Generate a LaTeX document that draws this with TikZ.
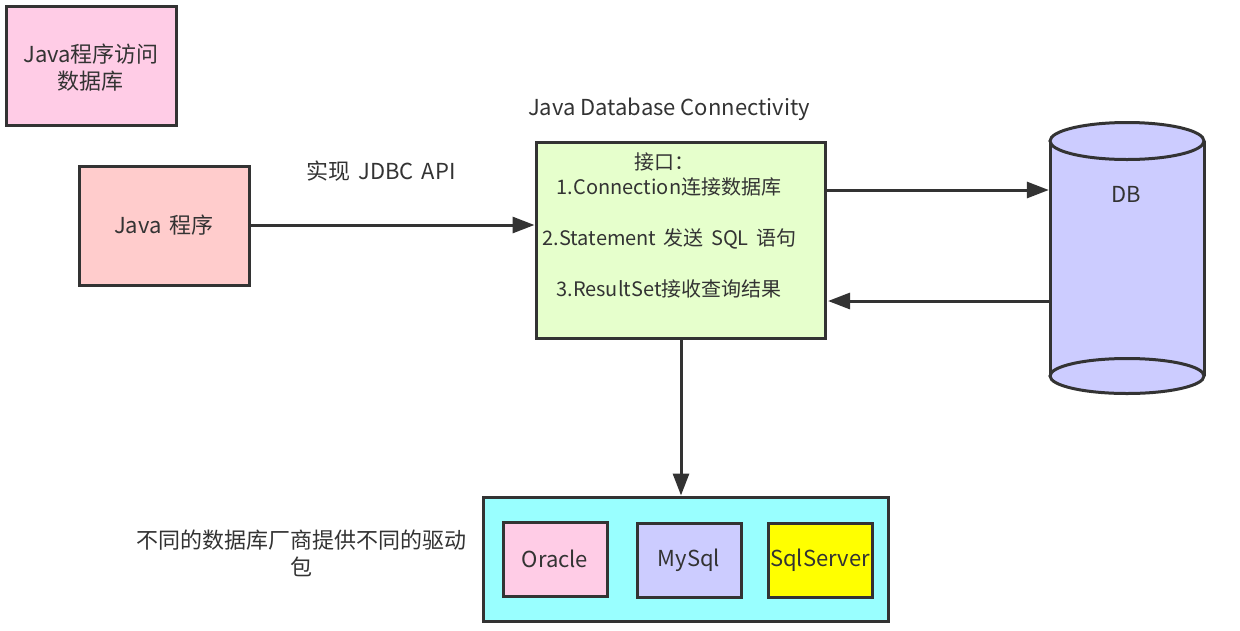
\documentclass[tikz,border=0pt]{standalone}
\usepackage{fontspec}
\setmainfont{Noto Sans CJK SC}
\usetikzlibrary{arrows.meta}
\definecolor{strokec}{HTML}{333333}
\definecolor{pinkc}{HTML}{FFCCE6}
\definecolor{salmonc}{HTML}{FFCCCC}
\definecolor{greenc}{HTML}{E6FFCC}
\definecolor{bluec}{HTML}{CCCCFF}
\definecolor{cyanc}{HTML}{99FFFF}
\definecolor{yellowc}{HTML}{FFFF00}
\definecolor{textc}{HTML}{333333}
\newcommand{\wsp}{\hspace{0.37em}}
\tikzset{
  box/.style={draw=strokec, line width=3pt, inner sep=0pt, align=center, text=textc, font=\fontsize{22}{26}\selectfont},
  lbl/.style={inner sep=0pt, align=center, text=textc, font=\fontsize{22}{27}\selectfont},
  itm/.style={inner sep=0pt, align=center, text=textc, font=\fontsize{20}{26}\selectfont},
  conn/.style={draw=strokec, line width=3pt, -{Triangle[length=22pt,width=16pt]}},
}
\begin{document}
\begin{tikzpicture}[x=1pt,y=-1pt]
\useasboundingbox (0,0) rectangle (1240,630);
\fill[white] (0,0) rectangle (1240,630);
% boxes
\node[box, fill=pinkc, minimum width=170pt, minimum height=119pt] (title) at (91,65.5) {};
\node[lbl] (titletxt) at (91,68) {Java程序访问\\数据库};
\node[box, fill=salmonc, minimum width=170pt, minimum height=119pt] (java) at (164,225.5) {Java\wsp 程序};
\node[box, fill=greenc, minimum width=289pt, minimum height=196pt] (jdbc) at (680.5,240) {};
\node[itm] (t0) at (664,162) {接口：};
\node[itm] (t1) at (669,187) {1.Connection连接数据库};
\node[itm] (t2) at (669.5,239) {2.Statement\wsp 发送\wsp SQL\wsp 语句};
\node[itm] (t3) at (669,289) {3.ResultSet接收查询结果};
\node[lbl] (jdbclbl) at (669,109) {Java Database Connectivity};
\node[lbl] (impl) at (381,171) {实现\wsp JDBC\wsp API};
% cylinder
\fill[bluec] (1050,141) rectangle (1204,376);
\draw[strokec, line width=3pt, fill=bluec] (1127,376) ellipse [x radius=77, y radius=17.5];
\draw[strokec, line width=3pt] (1050,141) -- (1050,376) (1204,141) -- (1204,376);
\draw[strokec, line width=3pt, fill=bluec] (1127,141) ellipse [x radius=77, y radius=18.5];
\node[inner sep=0pt, minimum width=154pt, minimum height=235pt] (db) at (1127,258.5) {};
\node[lbl] (dblbl) at (1126,194) {DB};
% drivers
\node[box, fill=cyanc, minimum width=405pt, minimum height=124pt] (drv) at (685.5,559) {};
\node[box, fill=pinkc, minimum width=104pt, minimum height=74pt] (oracle) at (555,559) {Oracle};
\node[box, fill=bluec, minimum width=104pt, minimum height=74pt] (mysql) at (689,560) {MySql};
\node[box, fill=yellowc, minimum width=104pt, minimum height=74pt] (sqls) at (820,560) {SqlServer};
\node[lbl] (vendor) at (301,553) {不同的数据库厂商提供不同的驱动\\包};
% connectors
\draw[conn] (java.east |- 0,225) -- (jdbc.west |- 0,225);
\draw[conn] (jdbc.east |- 0,190) -- ([xshift=-1pt]db.west |- 0,190);
\draw[conn] (db.west |- 0,301) -- ([xshift=1.5pt]jdbc.east |- 0,301);
\draw[conn] (jdbc.south -| 681,0) -- (drv.north -| 681,0);
\end{tikzpicture}
\end{document}
